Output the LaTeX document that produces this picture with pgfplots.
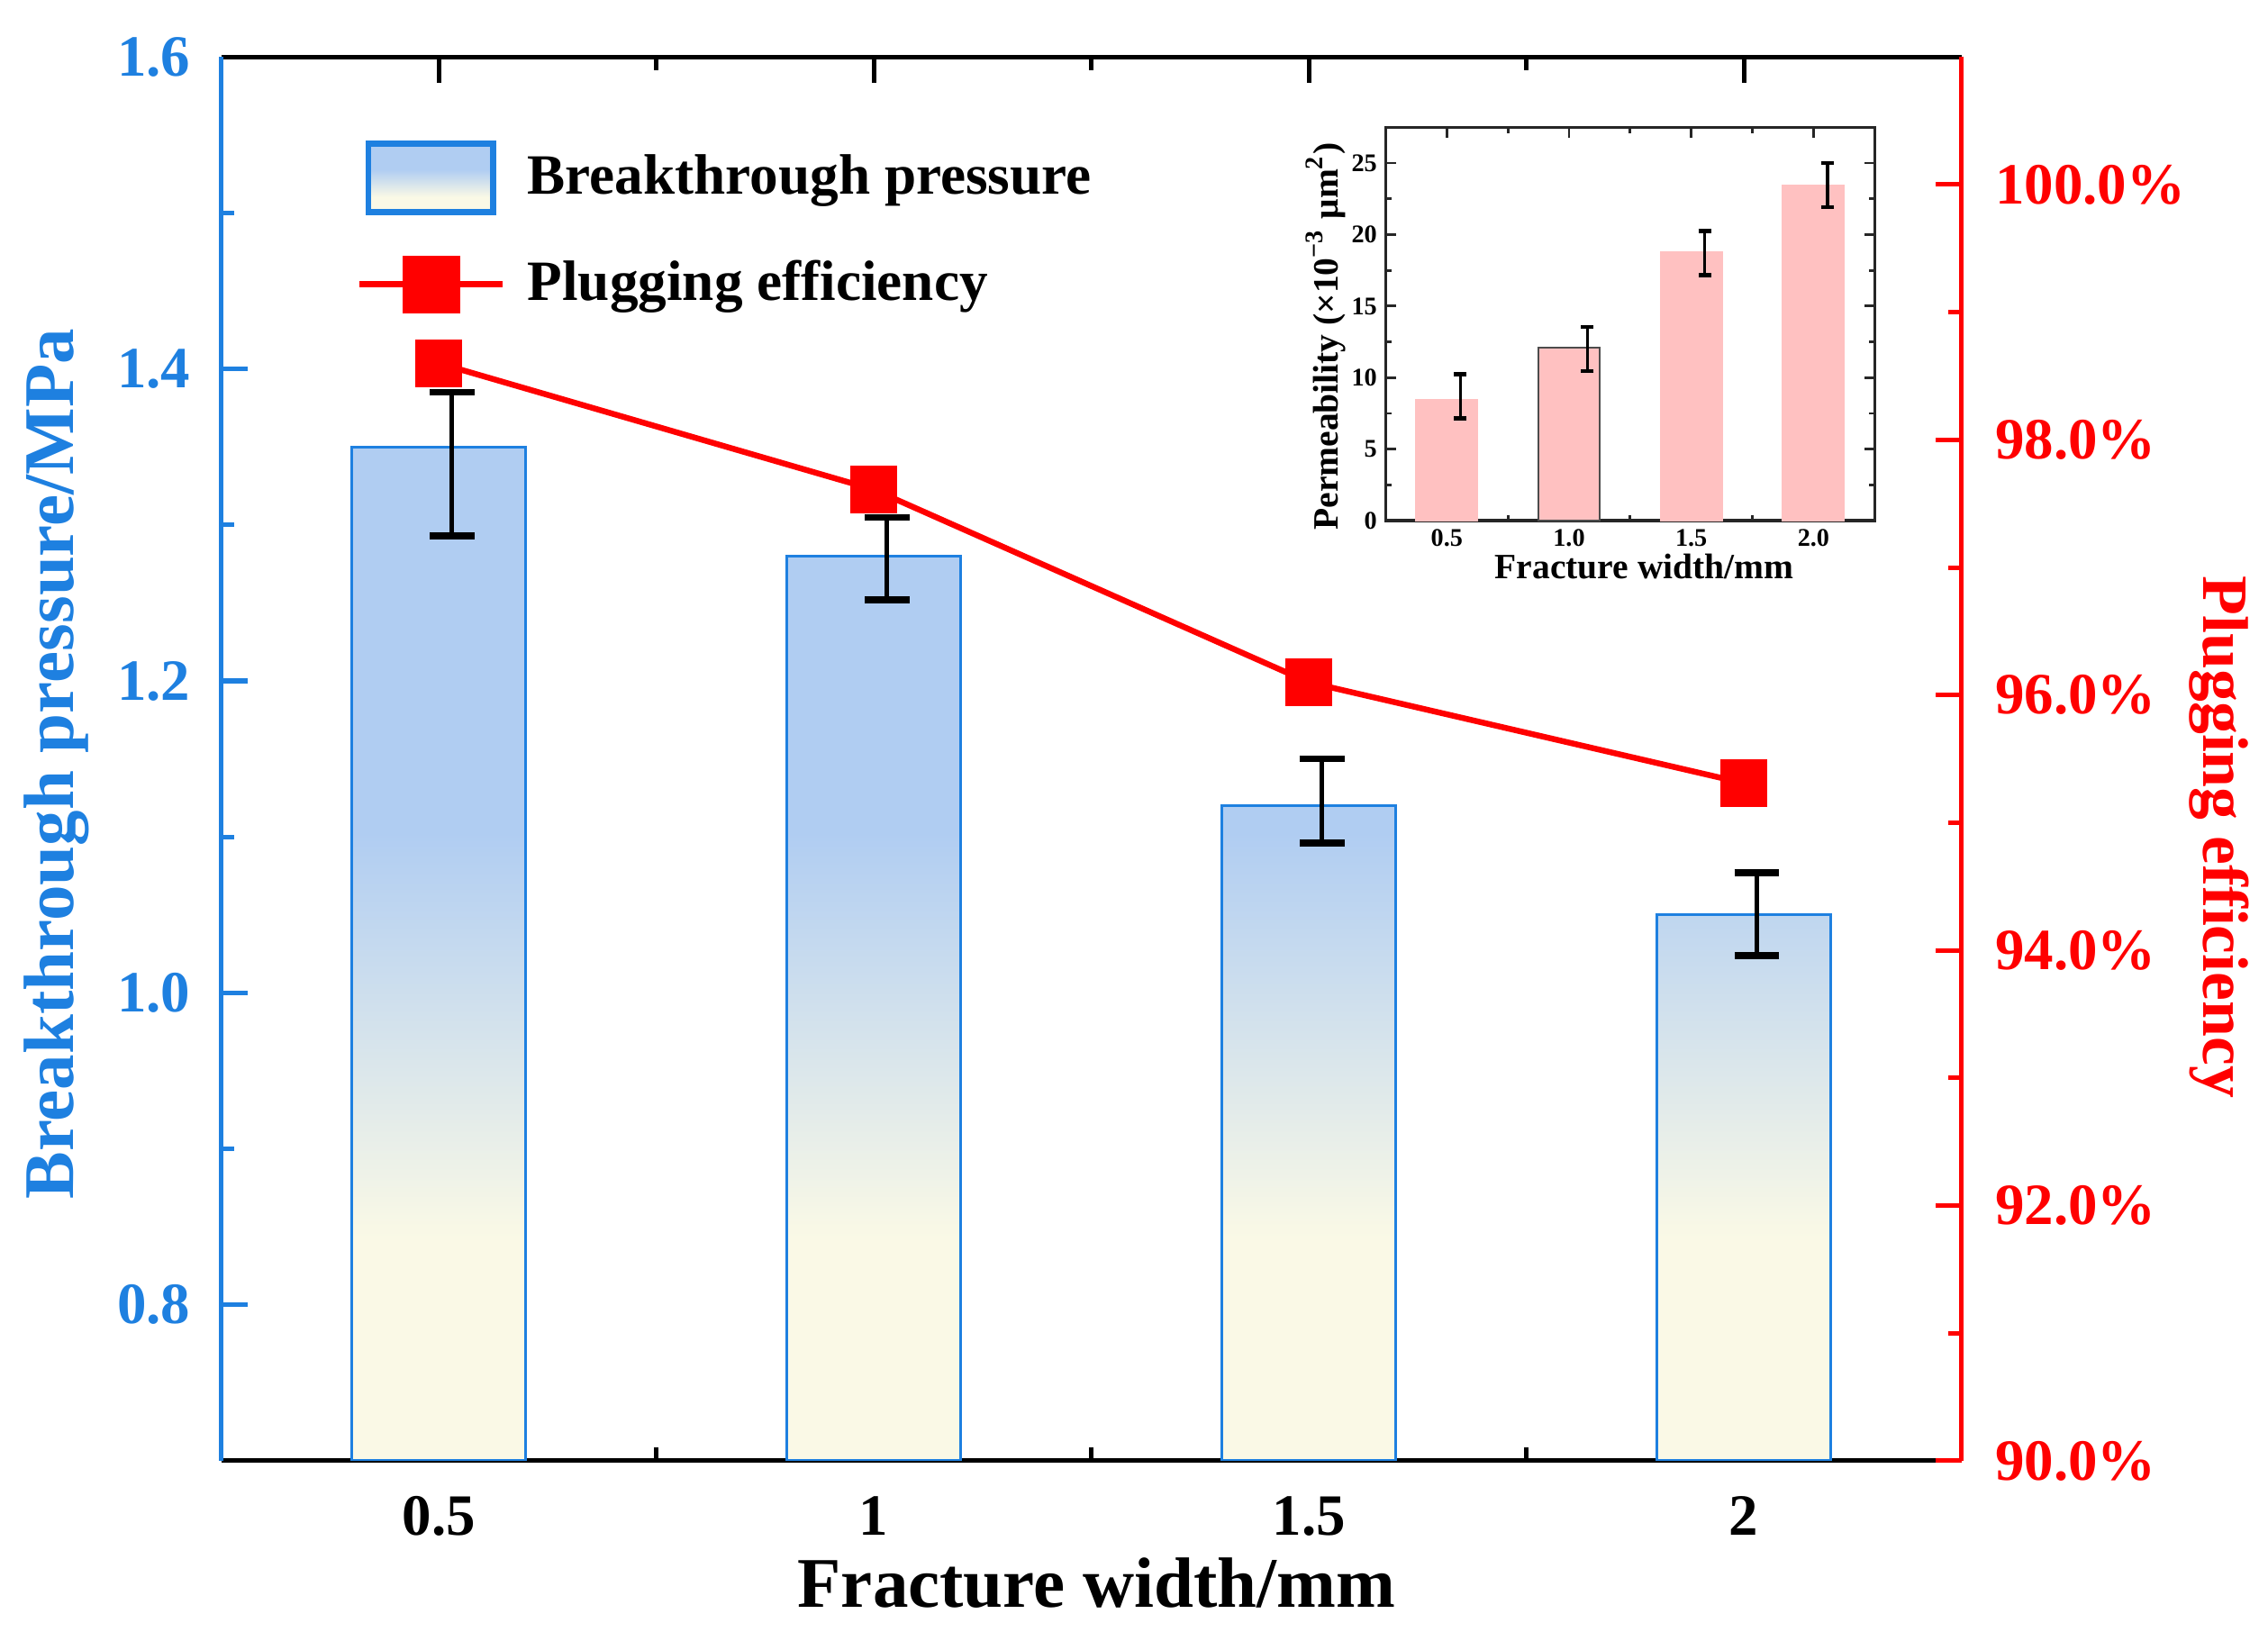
\documentclass[border=0pt]{standalone}
\usepackage{fontspec}
\setmainfont{Liberation Serif}
\usepackage{pgfplots}
\usepackage{pgfplotstable}
\pgfplotsset{compat=1.18}
\definecolor{cblue}{RGB}{30,128,224}
\definecolor{barblue}{RGB}{176,205,242}
\definecolor{barcream}{RGB}{250,249,230}
\definecolor{cred}{RGB}{255,0,0}
\definecolor{pinkbar}{RGB}{255,193,193}
\pgfdeclareverticalshading{barshade}{100bp}{color(0bp)=(barcream); color(25bp)=(barcream); color(36bp)=(barcream); color(56bp)=(barblue); color(75bp)=(barblue); color(100bp)=(barblue)}
\pgfplotsset{
  mylineleg/.style={legend image code/.code={\draw[##1, mark=none] (0cm,0cm) -- (0.99cm,0cm); \draw[##1, mark size=0.18cm] plot coordinates {(0.495cm,0cm)};}},
  mybarleg/.style={legend image code/.code={\draw[cblue, line width=1.2pt, shade, shading=barshade] (0.06cm,-0.235cm) rectangle (0.92cm,0.235cm);}},
}

\pgfplotstableread{
x   xe     y     ep     em
0.5 0.515  1.35  0.035  0.057
1.0 1.015  1.28  0.025  0.028
1.5 1.515  1.12  0.030  0.024
2.0 2.015  1.05  0.027  0.026
}\bpdata

\pgfplotstableread{
x   y
0.5 98.60
1.0 97.61
1.5 96.10
2.0 95.31
}\pedata

\pgfplotstableread{
x   xe    y      ep    em
0.5 0.555 8.45   1.79  1.31
1.5 1.555 18.74  1.52  1.57
2.0 2.058 23.44  1.56  1.52
}\permA

\pgfplotstableread{
x   xe    y      ep    em
1.0 1.075 12.10  1.43  1.64
}\permB

\begin{document}
\begin{tikzpicture}
\begin{axis}[
  at={(0,0)}, anchor=south west,
  scale only axis, width=12.03cm, height=9.706cm,
  xmin=0.25, xmax=2.25, ymin=0, ymax=0.9,
  axis y line*=left,
  xtick={0.5,1,1.5,2}, xticklabels={0.5,1,1.5,2},
  minor xtick={0.75,1.25,1.75},
  ytick={0.1,0.3,0.5,0.7,0.9}, yticklabels={0.8,1.0,1.2,1.4,1.6},
  minor ytick={0.2,0.4,0.6,0.8},
  tick align=inside,
  major tick length=0.18cm, minor tick length=0.09cm,
  x axis line style={line width=0.9pt, black},
  y axis line style={line width=0.9pt, cblue},
  x tick style={line width=0.9pt, black},
  y tick style={line width=0.9pt, cblue},
  xticklabel style={font=\bfseries\fontsize{11.5}{13}\selectfont, black, yshift=-0.12cm},
  yticklabel style={font=\bfseries\fontsize{11.5}{13}\selectfont, cblue, xshift=-0.09cm},
  xlabel={Fracture width/mm},
  ylabel={Breakthrough pressure/MPa},
  every axis x label/.style={at={(axis description cs:0.503,-0.1041)}, anchor=base, font=\bfseries\fontsize{14}{16}\selectfont, black},
  every axis y label/.style={at={(axis description cs:-0.085,0.4964)}, anchor=base, rotate=90, font=\bfseries\fontsize{14}{16}\selectfont, cblue},
]
\addplot[ybar, bar width=0.2, draw=cblue, line width=0.6pt, shade, shading=barshade,
  y filter/.expression={y-0.7}] table[x=x, y=y]{\bpdata};
\addplot[draw=none, mark=none, forget plot, y filter/.expression={y-0.7},
  error bars/.cd, y dir=both, y explicit,
  error bar style={draw=black, line width=0.8pt},
  error mark options={rotate=90, mark size=0.155cm, line width=1.3pt, draw=black}]
  table[x=xe, y=y, y error plus=ep, y error minus=em]{\bpdata};
\end{axis}

\begin{axis}[
  at={(0,0)}, anchor=south west,
  scale only axis, width=12.03cm, height=9.706cm,
  xmin=0.25, xmax=2.25, ymin=90, ymax=101,
  axis x line=none, axis y line*=right,
  ytick={90,92,94,96,98,100},
  yticklabels={90.0\%,92.0\%,94.0\%,96.0\%,98.0\%,100.0\%},
  minor ytick={91,93,95,97,99},
  tick align=inside,
  major tick length=0.18cm, minor tick length=0.09cm,
  y axis line style={line width=0.9pt, cred},
  y tick style={line width=0.9pt, cred},
  yticklabel style={font=\bfseries\fontsize{11.5}{13}\selectfont, cred, xshift=0.11cm},
  ylabel={Plugging efficiency},
  every axis y label/.style={at={(axis description cs:1.1391,0.4443)}, anchor=base, rotate=-90, font=\bfseries\fontsize{12.7}{15}\selectfont, cred},
  legend style={at={(axis description cs:0.0773,0.941)}, anchor=north west, draw=none, fill=none,
    font=\bfseries\fontsize{11.2}{13}\selectfont, row sep=0.3cm, column sep=0.15cm, inner sep=0pt,
    nodes={inner sep=0pt}},
  legend cell align=left,
]
\addlegendimage{mybarleg}
\addlegendentry{Breakthrough pressure}
\addplot[cred, line width=1.15pt, mark=square*, mark size=0.143cm, mark options={solid, fill=cred, draw=cred}, mylineleg]
  table[x=x, y=y]{\pedata};
\addlegendentry{Plugging efficiency}
\end{axis}

\begin{axis}[
  at={(8.05cm,6.50cm)}, anchor=south west,
  scale only axis, width=3.38cm, height=2.72cm,
  xmin=0.25, xmax=2.25, ymin=0, ymax=27.5,
  axis background/.style={fill=white},
  xtick={0.5,1,1.5,2}, xticklabels={0.5,1.0,1.5,2.0},
  minor xtick={0.75,1.25,1.75},
  ytick={0,5,10,15,20,25}, yticklabels={0,5,10,15,20,25},
  minor ytick={2.5,7.5,12.5,17.5,22.5},
  tick align=inside,
  major tick length=0.07cm, minor tick length=0.04cm,
  axis line style={line width=0.6pt, black!85},
  tick style={line width=0.5pt, black!85},
  ticklabel style={font=\bfseries\fontsize{5}{6}\selectfont, inner sep=1.5pt},
  xlabel={Fracture width/mm},
  ylabel={Permeability (×10\textsuperscript{−3} μm\textsuperscript{2})},
  every axis x label/.style={at={(axis description cs:0.529,-0.147)}, anchor=base, font=\bfseries\fontsize{7}{8}\selectfont, black},
  every axis y label/.style={at={(axis description cs:-0.0976,0.469)}, anchor=base, rotate=90, font=\bfseries\fontsize{7}{8}\selectfont, black},
]
\addplot[ybar, bar width=0.25, bar shift=0pt, fill=pinkbar, draw=pinkbar, line width=0.4pt] table[x=x, y=y]{\permA};
\addplot[ybar, bar width=0.25, bar shift=0pt, fill=pinkbar, draw=black!70, line width=0.4pt] table[x=x, y=y]{\permB};
\addplot[draw=none, mark=none,
  error bars/.cd, y dir=both, y explicit,
  error bar style={draw=black, line width=0.6pt},
  error mark options={rotate=90, mark size=0.043cm, line width=0.8pt, draw=black}]
  table[x=xe, y=y, y error plus=ep, y error minus=em]{\permA};
\addplot[draw=none, mark=none,
  error bars/.cd, y dir=both, y explicit,
  error bar style={draw=black, line width=0.6pt},
  error mark options={rotate=90, mark size=0.043cm, line width=0.8pt, draw=black}]
  table[x=xe, y=y, y error plus=ep, y error minus=em]{\permB};
\end{axis}

\pgfresetboundingbox
\path (-1.53cm,-1.24cm) rectangle (14.15cm,10.10cm);
\end{tikzpicture}
\end{document}
